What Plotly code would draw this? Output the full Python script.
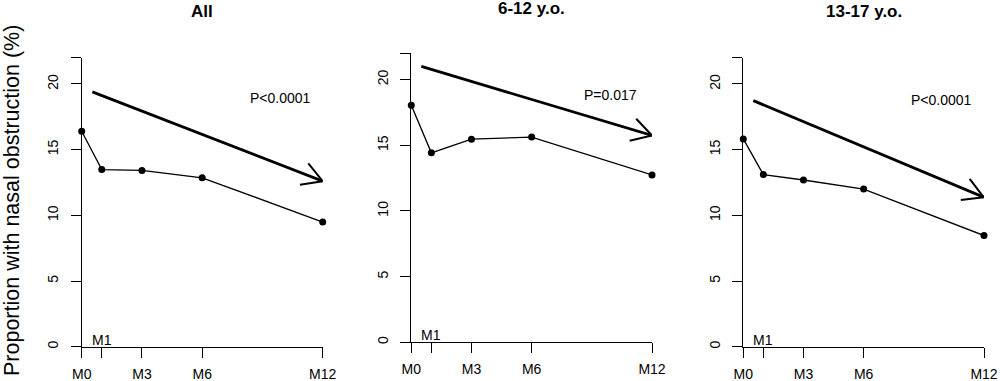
import math
import plotly.graph_objects as go

# ---- data ----
months = [0, 1, 3, 6, 12]
month_labels = ["M0", "", "M3", "M6", "M12"]
panel_titles = ["All", "6-12 y.o.", "13-17 y.o."]
vals_all = [16.4, 13.48, 13.42, 12.86, 9.49]
vals_6_12 = [18.04, 14.42, 15.46, 15.62, 12.74]
vals_13_17 = [15.82, 13.1, 12.69, 12.0, 8.46]
p_labels = ["P<0.0001", "P=0.017", "P<0.0001"]
p_x = [9.92, 9.93, 9.9]
p_y = [18.9, 18.85, 18.78]
arrow_start_x = [0.53, 0.5, 0.5]
arrow_start_y = [19.4, 21.0, 18.73]
arrow_end_x = [12.0, 12.0, 11.98]
arrow_end_y = [12.6, 15.74, 11.38]
y_ticks = [0, 5, 10, 15, 20, 22]
y_tick_text = ["0", "5", "10", "15", "20", ""]
y_title = "Proportion with nasal obstruction (%)"

series = [vals_all, vals_6_12, vals_13_17]

# ---- layout geometry (pixels) ----
W, H = 1000, 381
x_px = [(81.7, 322.7), (411.3, 652.0), (743.3, 984.0)]
y_px = [(57.7, 346.7), (53.3, 342.3), (57.7, 346.7)]  # (top, bottom)
title_px_y = [12.0, 8.5, 12.0]
X_RANGE = [0, 12]
Y_RANGE = [0, 22]

FONT = "Liberation Sans, Arial, Helvetica, sans-serif"

fig = go.Figure()

for i in range(3):
    sfx = "" if i == 0 else str(i + 1)
    xa, ya = "x" + sfx, "y" + sfx
    # data line
    fig.add_trace(go.Scatter(
        x=months, y=series[i], mode="lines+markers",
        line=dict(color="black", width=1.3),
        marker=dict(color="black", size=7),
        xaxis=xa, yaxis=ya, cliponaxis=False, showlegend=False,
    ))
    # trend arrow shaft
    sx, sy, ex, ey = arrow_start_x[i], arrow_start_y[i], arrow_end_x[i], arrow_end_y[i]
    fig.add_trace(go.Scatter(
        x=[sx, ex], y=[sy, ey], mode="lines",
        line=dict(color="black", width=2.8),
        xaxis=xa, yaxis=ya, cliponaxis=False, showlegend=False,
    ))
    # open arrow head (R arrows style), computed in pixel space
    kx = (x_px[i][1] - x_px[i][0]) / (X_RANGE[1] - X_RANGE[0])
    ky = (y_px[i][1] - y_px[i][0]) / (Y_RANGE[1] - Y_RANGE[0])
    dxp = (sx - ex) * kx
    dyp = -(sy - ey) * ky
    n = math.hypot(dxp, dyp)
    ux, uy = dxp / n, dyp / n
    L = 23.0
    hx, hy = [], []
    for ang in (math.radians(30), None, math.radians(-30)):
        if ang is None:
            hx.append(ex)
            hy.append(ey)
            continue
        rx = ux * math.cos(ang) - uy * math.sin(ang)
        ry = ux * math.sin(ang) + uy * math.cos(ang)
        hx.append(ex + rx * L / kx)
        hy.append(ey - ry * L / ky)
    fig.add_trace(go.Scatter(
        x=hx, y=hy, mode="lines",
        line=dict(color="black", width=2.0),
        xaxis=xa, yaxis=ya, cliponaxis=False, showlegend=False,
    ))

    xd = [x_px[i][0] / W, x_px[i][1] / W]
    yd = [(H - y_px[i][1]) / H, (H - y_px[i][0]) / H]
    axis_common = dict(
        showline=True, linecolor="black", linewidth=1.3,
        ticks="outside", ticklen=10, tickwidth=1.3, tickcolor="black",
        showgrid=False, zeroline=False, fixedrange=True, automargin=False,
        tickfont=dict(family=FONT, size=14, color="black"),
    )
    fig.layout["xaxis" + sfx] = dict(
        domain=xd, range=X_RANGE, anchor=ya,
        tickmode="array", tickvals=months, ticktext=month_labels,
        ticklabelstandoff=4,
        **axis_common,
    )
    fig.layout["yaxis" + sfx] = dict(
        domain=yd, range=Y_RANGE, anchor=xa,
        tickmode="array", tickvals=y_ticks, ticktext=y_tick_text,
        tickangle=-90, ticklabelstandoff=7,
        **axis_common,
    )
    # M1 label inside the plot
    fig.add_annotation(
        x=months[1], y=0, xref=xa, yref=ya, text="M1", showarrow=False,
        yanchor="bottom", xanchor="center", yshift=-3,
        font=dict(family=FONT, size=14, color="black"),
    )
    # p-value text
    fig.add_annotation(
        x=p_x[i], y=p_y[i], xref=xa, yref=ya, text=p_labels[i], showarrow=False,
        xanchor="center", yanchor="middle",
        font=dict(family=FONT, size=14, color="black"),
    )
    # panel title
    fig.add_annotation(
        x=(xd[0] + xd[1]) / 2, y=1 - title_px_y[i] / H, xref="paper", yref="paper",
        text="<b>" + panel_titles[i] + "</b>", showarrow=False,
        xanchor="center", yanchor="middle",
        font=dict(family=FONT, size=17, color="black"),
    )

# shared y title
fig.add_annotation(
    x=11.5 / W, y=1 - 200.5 / H, xref="paper", yref="paper",
    text=y_title, textangle=-90, showarrow=False,
    xanchor="center", yanchor="middle",
    font=dict(family=FONT, size=21.5, color="black"),
)

fig.update_layout(
    width=W, height=H, margin=dict(l=0, r=0, t=0, b=0, autoexpand=False),
    paper_bgcolor="white", plot_bgcolor="white", showlegend=False,
)

fig.write_html(
    "out.html",
    config={"displayModeBar": False},
    post_script="document.body.style.margin='0px';document.body.style.overflow='hidden';",
)
